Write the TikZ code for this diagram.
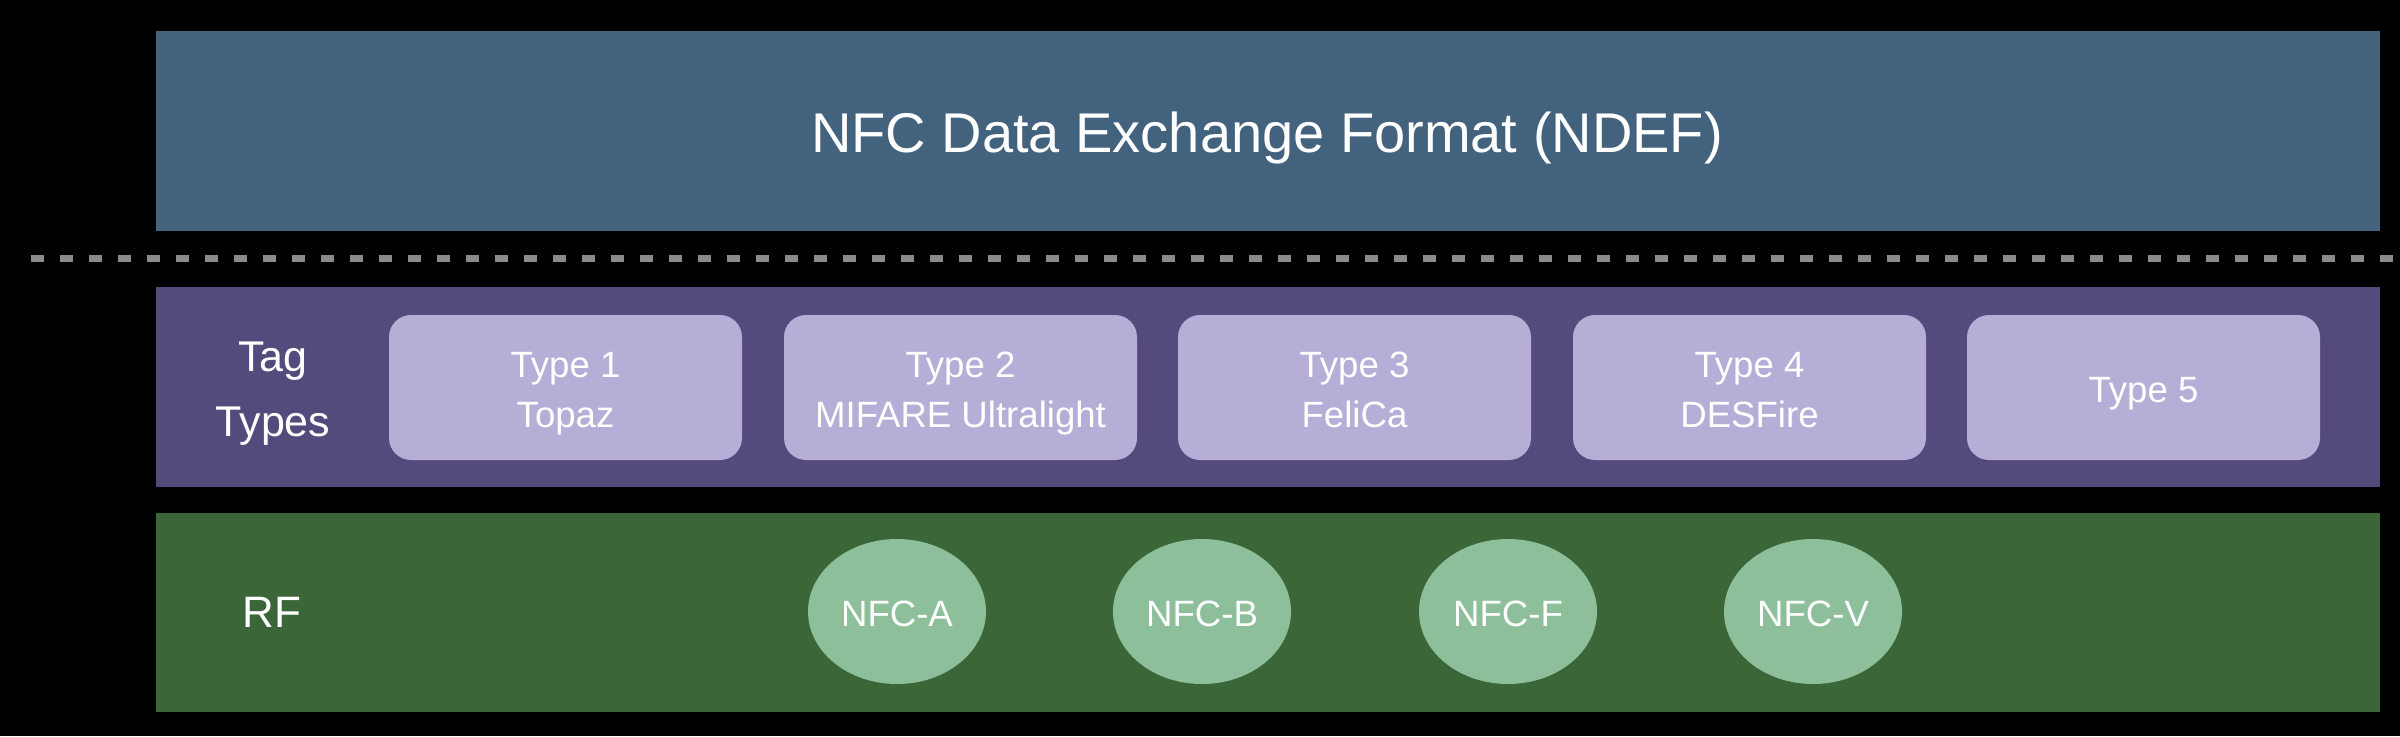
\documentclass[tikz,border=0pt]{standalone}
\usepackage{fontspec}
\setmainfont{Liberation Sans}
\usetikzlibrary{shapes.geometric}
\definecolor{ndefblue}{HTML}{42627E}
\definecolor{tagpurple}{HTML}{554A7C}
\definecolor{boxlilac}{HTML}{B6AED6}
\definecolor{rfgreen}{HTML}{3A6638}
\definecolor{ovalgreen}{HTML}{8DBF9B}
\definecolor{dashgray}{HTML}{8A8A8A}
\tikzset{
  layer/.style={rectangle, inner sep=0pt, minimum width=1112pt},
  typebox/.style={rectangle, rounded corners=11pt, fill=boxlilac, inner sep=0pt,
    minimum width=176.5pt, minimum height=72.5pt},
  boxtext/.style={text=white, inner sep=0pt, anchor=base,
    font=\fontsize{18.3pt}{22pt}\selectfont},
  rfoval/.style={ellipse, fill=ovalgreen, inner sep=0pt, minimum width=89pt,
    minimum height=72.5pt},
  sidelabel/.style={text=white, inner sep=0pt, anchor=base,
    font=\fontsize{21.5pt}{26pt}\selectfont},
  sepline/.style={draw=dashgray, line width=3.5pt, dash pattern=on 6.5pt off 8pt}
}
\begin{document}
\begin{tikzpicture}[x=0.5pt,y=-0.5pt]
\fill[black] (0,0) rectangle (2400,736);
\useasboundingbox (0,0) rectangle (2400,736);
% layers
\node[layer, fill=ndefblue, minimum height=100pt] (ndef) at (1268,131) {};
\node[layer, fill=tagpurple, minimum height=100pt] (tags) at (1268,387) {};
\node[layer, fill=rfgreen, minimum height=99.5pt] (rf) at (1268,612.5) {};
\node[text=white, inner sep=0pt, anchor=base, font=\fontsize{28pt}{34pt}\selectfont] (title) at (1267,152.5) {NFC Data Exchange Format (NDEF)};
% separator
\coordinate (sepL) at (31,258);
\coordinate (sepR) at (2400,258);
\draw[sepline] (sepL) -- (sepR);
% tag types
\node[sidelabel] (taglabel) at (273,371) {Tag};
\node[sidelabel] (typeslabel) at (273,436) {Types};
\node[typebox] (t1) at (565.5,387.5) {};
\node[typebox] (t2) at (960.5,387.5) {};
\node[typebox] (t3) at (1354.5,387.5) {};
\node[typebox] (t4) at (1749.5,387.5) {};
\node[typebox] (t5) at (2143.5,387.5) {};
\node[boxtext] (t1a) at (565.5,377) {Type 1};
\node[boxtext] (t1b) at (565.5,427) {Topaz};
\node[boxtext] (t2a) at (960.5,377) {Type 2};
\node[boxtext] (t2b) at (960.5,427) {MIFARE Ultralight};
\node[boxtext] (t3a) at (1354.5,377) {Type 3};
\node[boxtext] (t3b) at (1354.5,427) {FeliCa};
\node[boxtext] (t4a) at (1749.5,377) {Type 4};
\node[boxtext] (t4b) at (1749.5,427) {DESFire};
\node[boxtext] (t5a) at (2143.5,402) {Type 5};
% rf
\node[sidelabel, font=\fontsize{22pt}{26pt}\selectfont] (rflabel) at (272,627) {RF};
\node[rfoval] (nfca) at (897,611.5) {};
\node[rfoval] (nfcb) at (1202,611.5) {};
\node[rfoval] (nfcf) at (1508,611.5) {};
\node[rfoval] (nfcv) at (1813,611.5) {};
\node[boxtext] (nfcat) at (897,626) {NFC-A};
\node[boxtext] (nfcbt) at (1202,626) {NFC-B};
\node[boxtext] (nfcft) at (1508,626) {NFC-F};
\node[boxtext] (nfcvt) at (1813,626) {NFC-V};
\end{tikzpicture}
\end{document}
